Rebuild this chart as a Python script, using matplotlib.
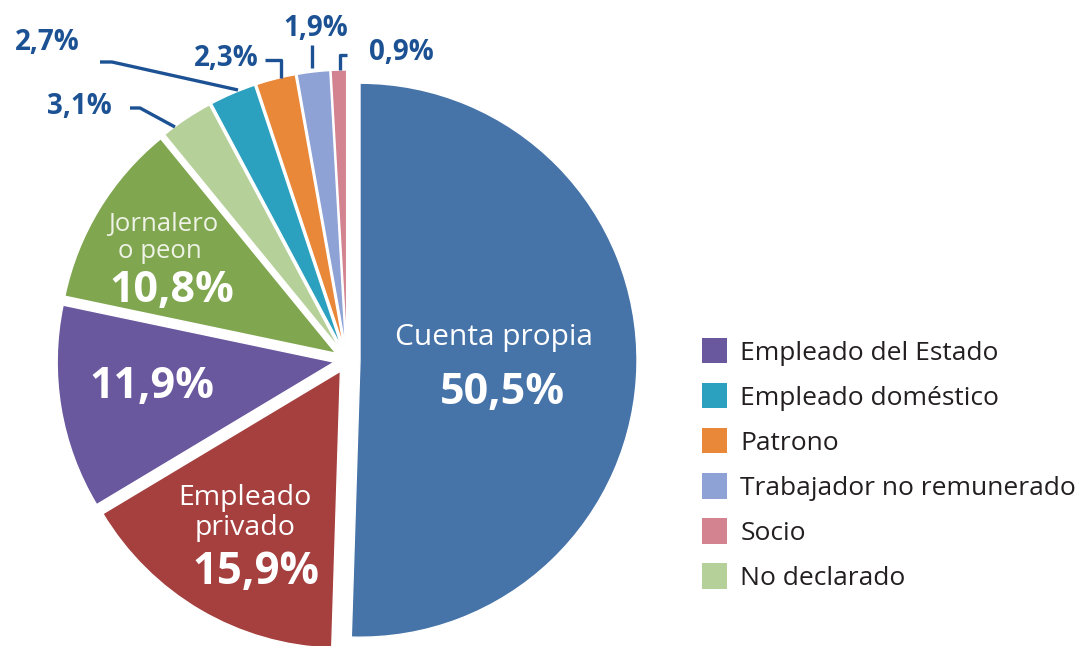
import matplotlib.pyplot as plt
from matplotlib.patches import Patch

plt.rcParams['font.family'] = ['Open Sans', 'DejaVu Sans']

# Data
categories = ["Cuenta propia", "Empleado privado", "Empleado del Estado",
              "Jornalero o peon", "No declarado", "Empleado doméstico",
              "Patrono", "Trabajador no remunerado", "Socio"]
shares = [50.5, 15.9, 11.9, 10.8, 3.1, 2.7, 2.3, 1.9, 0.9]
colors = ["#4673a8", "#a6403f", "#6a589f", "#80a64f", "#b6d09a",
          "#2ca0bf", "#ea883a", "#8ea2d6", "#d3838f"]
legend_items = ["Empleado del Estado", "Empleado doméstico", "Patrono",
                "Trabajador no remunerado", "Socio", "No declarado"]

W, H = 1087, 646
fig = plt.figure(figsize=(W / 100, H / 100), dpi=100)
ax = fig.add_axes([0, 0, 1, 1])


def py(y):
    # image pixel row -> data y
    return H - y


wedges, _ = ax.pie(shares, colors=colors, startangle=90, counterclock=False,
                   center=(347, py(360)), radius=277, explode=[13] * len(shares),
                   wedgeprops=dict(edgecolor="white", linewidth=1))
ax.set_xlim(0, W)
ax.set_ylim(0, H)
ax.set_aspect("equal")
ax.axis("off")


def fmt(v):
    return f"{v:.1f}%".replace(".", ",")


# labels inside the big slices
ax.text(494, py(338), "Cuenta propia", color="white", fontsize=21.5,
        ha="center", va="center")
ax.text(502, py(392), fmt(shares[0]), color="white", fontsize=31,
        fontweight="bold", ha="center", va="center")
ax.text(245, py(498), "Empleado", color="white", fontsize=20.5,
        ha="center", va="center")
ax.text(245, py(528), "privado", color="white", fontsize=20.5,
        ha="center", va="center")
ax.text(256, py(573), fmt(shares[1]), color="white", fontsize=31.5,
        fontweight="bold", ha="center", va="center")
ax.text(152, py(386), fmt(shares[2]), color="white", fontsize=31,
        fontweight="bold", ha="center", va="center")
ax.text(163, py(225), "Jornalero", color="#eef3e6", fontsize=18.5,
        ha="center", va="center")
ax.text(160, py(251), "o peon", color="#eef3e6", fontsize=18.5,
        ha="center", va="center")
ax.text(172, py(290), fmt(shares[3]), color="white", fontsize=31,
        fontweight="bold", ha="center", va="center")

# outside labels with leader lines
blue = "#1c5294"
outside = [
    (4, (79, 107), [(130, 108), (140, 108), (175, 127)]),
    (5, (47, 42), [(100, 62), (112, 62), (238, 90)]),
    (6, (226, 59), [(265, 60), (281, 60), (281, 78)]),
    (7, (316, 29), [(312, 45), (312, 68)]),
    (8, (401, 52), [(347, 55), (340, 55), (340, 70)]),
]
for i, (tx, tyy), pts in outside:
    ax.text(tx, py(tyy), fmt(shares[i]), color=blue, fontsize=20,
            fontweight="bold", ha="center", va="center")
    ax.plot([p[0] for p in pts], [py(p[1]) for p in pts], color=blue,
            lw=2.4, solid_capstyle="butt")

# legend
handles = [Patch(facecolor=colors[categories.index(n)], edgecolor="none")
           for n in legend_items]
ax.legend(handles, legend_items, loc="upper left", bbox_to_anchor=(702 / W, 1 - 338 / H),
          frameon=False, fontsize=19, handlelength=0.95, handleheight=1.1,
          handletextpad=0.5, labelspacing=0.66, labelcolor="#231f20",
          borderaxespad=0, borderpad=0)

fig.savefig("out.png", dpi=100)
